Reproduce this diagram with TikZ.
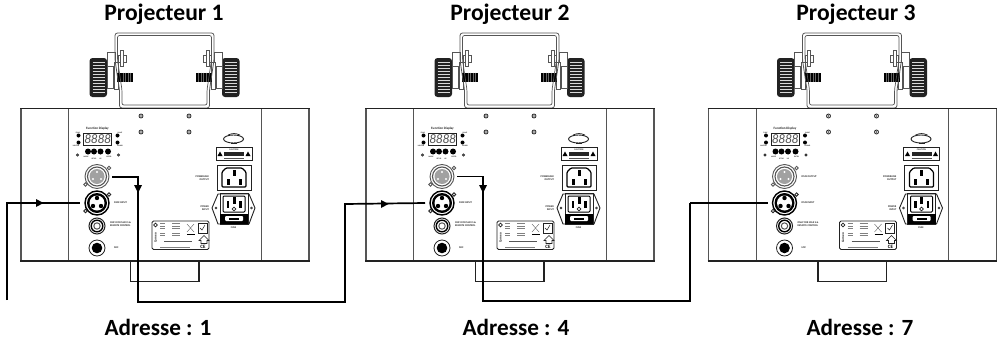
\documentclass[tikz,border=0pt]{standalone}
\usepackage{fontspec}
\setmainfont{Carlito}
\usetikzlibrary{arrows.meta}
\definecolor{dk}{HTML}{222222}
\definecolor{md}{HTML}{555555}
\tikzset{
  title/.style={font=\fontsize{23.6}{24}\selectfont\bfseries,text=black,inner sep=0pt,anchor=base},
  addr/.style={font=\fontsize{23.2}{24}\selectfont\bfseries,text=black,inner sep=0pt,anchor=base},
  tiny/.style={font=\fontsize{2.6}{2.9}\selectfont\bfseries,text=dk,inner sep=0pt,align=center},
  hull/.style={draw=md,line width=1.3pt},
  wire/.style={draw=black,line width=1.7pt,line join=miter},
  thinwire/.style={draw=black,line width=1.2pt},
  tip/.style={fill=black},
  screw/.style={draw=dk,line width=.8pt,fill=white},
}
\newcommand{\halfyoke}{%
  % knob
  \fill[dk,rounded corners=3pt] (89.5,58) rectangle (107,97);
  \foreach \ry in {62,65,...,94}{\draw[white!85!black,line width=.6pt] (92.5,\ry) -- (104.5,\ry);}
  % arm
  \draw[md,line width=.7pt,fill=white] (107,52) rectangle (115,66);
  \draw[md,line width=.7pt,fill=white] (107,66) rectangle (113,88);
  \draw[md,line width=.7pt,fill=white] (114,62) rectangle (118,89);
  \draw[md,line width=.7pt,fill=white] (118,55) rectangle (126,62);
  \draw[md,line width=.7pt,fill=white] (120,50.5) rectangle (123,66);
  % bolt
  \fill[black] (117,72.5) rectangle (133,82);
  \foreach \rx in {123,125.5,...,132}{\draw[dk!70,line width=.4pt] (\rx,72.5) -- (\rx,82);}
}
\newcommand{\xlrscrews}[2]{%
  \draw[#1,line width=.8pt,fill=white] (85.5,184.5+#2) circle (1.7);
  \draw[#1,line width=.8pt,fill=white] (109,168+#2) circle (1.7);
}
\newcommand{\projunit}[3]{%
\begin{scope}[shift={(#1,0)}]
  % yoke
  \begin{scope}\halfyoke\end{scope}
  \begin{scope}[shift={(329,0)},xscale=-1]\halfyoke\end{scope}
  \draw[md,line width=.8pt,rounded corners=2.5pt] (115,33) -- (214,33) -- (214,60) -- (209.5,90) -- (209.5,108) -- (119.5,108) -- (119.5,90) -- (115,60) -- cycle;
  \draw[md,line width=.7pt,rounded corners=2pt] (117.5,35.5) -- (211.5,35.5) -- (211.5,60) -- (207,90) -- (207,105) -- (122,105) -- (122,90) -- (117.5,60) -- cycle;
  % hull
  \draw[hull] (21,108.5) -- (21,261);
  \draw[hull] (309,108.5) -- (309,261);
  \draw[md,line width=.9pt] (68.5,108.5) -- (68.5,261);
  \draw[md,line width=.9pt] (261,108.5) -- (261,261);
  \draw[draw=dk,line width=1.2pt] (20,108.5) -- (309.5,108.5);
  \draw[draw=dk,line width=1.4pt] (20,261) -- (309.5,261);
  % handle
  \draw[draw=dk,line width=1.2pt] (130.5,261) -- (130.5,281.5) -- (199,281.5) -- (199,261);
  % screws
  \foreach \sx in {141,189}\foreach \sy in {116,132}{
    \draw[screw] (\sx,\sy) circle (2);
    \fill[md] (\sx,\sy) circle (.8);
  }
  % display
  \node[tiny,font=\fontsize{3.3}{3.5}\selectfont\bfseries] (fd#2) at (97.5,129) {Function Display};
  \draw[dk,line width=1pt] (83.5,133.5) rectangle (111.5,145);
  \node[font=\fontsize{13}{14}\selectfont\itshape,text=md,inner sep=0pt] (dg#2) at (97.5,139.3) {8888};
  \foreach \lx in {78.5,117.5}\foreach \ly in {135.5,142.5}{\fill[black] (\lx,\ly) circle (2);}
  \node[tiny,anchor=center] (l1#2) at (78,132.5) {\scalebox{.7}{FUNC}};
  \node[tiny] (l2#2) at (76,145.5) {\scalebox{.7}{MASTER}};
  \node[tiny] (l3#2) at (120,132.5) {\scalebox{.7}{SLAVE}};
  \node[tiny] (l4#2) at (120,145.5) {\scalebox{.7}{SOUND}};
  \foreach \bx in {88,94,100.5,108}{\fill[black] (\bx,151.5) circle (3);}
  \draw[dk,line width=.7pt] (77.5,155) circle (1.2);
  \draw[dk,line width=.7pt] (118.5,155) circle (1.2);
  \node[tiny] (b1#2) at (86,157) {\scalebox{.7}{MODE}};
  \node[tiny] (b2#2) at (94,159) {\scalebox{.7}{SETUP}};
  \node[tiny] (b3#2) at (100.5,159) {\scalebox{.7}{UP}};
  \node[tiny] (b4#2) at (109,157) {\scalebox{.7}{ENTER}};
  % XLR output
  \draw[md,line width=.9pt,fill=white] (97,176.5) circle (12);
  \draw[md,line width=1.1pt] (97,176.5) circle (9.5);
  \fill[md!55] (97,176.5) circle (7.5);
  \foreach \px/\py in {97/172,93/179,101/179}{\fill[white] (\px,\py) circle (1.2);}
  \xlrscrews{md}{0}
  % XLR input
  \draw[black,line width=1.4pt,fill=white] (97,203) circle (12);
  \fill[black] (97,203) circle (10);
  \fill[white] (97,203) circle (7.5);
  \foreach \px/\py in {97/198,93/206,101/206}{\fill[black] (\px,\py) circle (2.2);}
  \xlrscrews{dk}{26.5}
  \node[tiny,anchor=west] (in#2t) at (114,203) {DMX INPUT};
  % remote
  \draw[dk,line width=1pt] (97,226) circle (8);
  \draw[black,line width=1.4pt] (97,226) circle (5.8);
  \draw[md,line width=1pt] (97,226) circle (3.2);
  \node[tiny,anchor=west,align=left] (re#2t) at (110,224.5) {ONLY FOR MAX S \&\\REMOTE CONTROL};
  % mic
  \draw[dk,line width=.8pt] (97,248) circle (8);
  \fill[black] (97,248) circle (5.3);
  \node[tiny,anchor=west] (mi#2t) at (114,248) {MIC};
  % rating plate
  \draw[dk,line width=.8pt,rounded corners=1.5pt] (152,221) rectangle (209,249.5);
  \draw[dk,line width=.7pt] (155.5,225) circle (1.8);
  \node[tiny,rotate=90,font=\fontsize{3.4}{4}\selectfont\bfseries] (cn#2) at (155.5,238) {Cameo};
  \foreach \ty in {223.5,226,228.5,233,235}{\draw[gray,line width=.35pt] (160,\ty) -- (165,\ty);\draw[gray,line width=.35pt] (172,\ty) -- (180,\ty);}
  \draw[md,line width=.6pt] (164,241.5) -- (192,241.5);
  \draw[gray,line width=.35pt] (160,247.5) -- (190,247.5);
  \draw[md,line width=.35pt] (187,224) -- (194,232);
  \draw[md,line width=.35pt] (194,224) -- (187,232);
  \draw[black,line width=.9pt] (187,234) -- (195,234);
  \draw[dk,line width=.5pt] (198,223) rectangle (207,233);
  \draw[dk,line width=.5pt] (200,228) -- (202,230) -- (205,225);
  \draw[dk,line width=.6pt] (199,240.5) -- (204,235.5) -- (209,240.5) -- (207,240.5) -- (207,243.5) -- (201,243.5) -- (201,240.5) -- cycle;
  \node[font=\fontsize{5}{6}\selectfont\bfseries,inner sep=0pt] (ce#2) at (203,246.5) {CE};
  % cable clip
  \draw[dk,line width=.9pt] (233.5,139) ellipse (10 and 4);
  \draw[dk,line width=.7pt] (228,135) .. controls (233,133) and (235,133) .. (240,135);
  \fill[dk] (231,142.5) rectangle (237,144);
  % warning label
  \draw[dk,line width=.8pt] (216,147.5) rectangle (252,160);
  \fill[black!85] (224,152) rectangle (244,155.5);
  \fill[black] (220,151.5) -- (222.5,156) -- (217.5,156) -- cycle;
  \fill[black] (248,151.5) -- (250.5,156) -- (245.5,156) -- cycle;
  \node[tiny] (wl#2) at (234,149.8) {\scalebox{.9}{CAUTION}};
  \draw[md,line width=.5pt] (224,158) -- (244,158);
  % outlet
  \draw[dk,line width=.9pt] (217,165) rectangle (251,190.5);
  \draw[black,line width=1.2pt,rounded corners=1pt] (222,172) -- (226,168) -- (242,168) -- (246,172) -- (246,187) -- (222,187) -- cycle;
  \fill[black] (232.5,170) rectangle (235.5,175.5);
  \fill[black] (226.5,179) rectangle (229.5,185);
  \fill[black] (238.5,179) rectangle (241.5,185);
  \node[tiny,align=right,anchor=east] (po#2) at (209,178) {POWERLINK\\OUTPUT};
  % power input
  \draw[dk,line width=.9pt,fill=white] (218,194) -- (249,194) -- (255,208) -- (249,224) -- (218,224) -- (212,208) -- cycle;
  \draw[dk,line width=1pt] (220,193) rectangle (248,224);
  \draw[black,line width=1pt,rounded corners=1pt] (223,196) rectangle (245,212);
  \fill[black] (232.5,197) rectangle (235.5,204);
  \fill[black] (226.5,201) rectangle (229,208);
  \fill[black] (239,201) rectangle (241.5,208);
  \draw[dk,line width=.6pt] (234,209) circle (1.9);
  \fill[black] (220,213.5) rectangle (248,223.5);
  \fill[white,rounded corners=1pt] (225,216) rectangle (243,221);
  \fill[black] (229,217.5) rectangle (239,219.5);
  \draw[dk,line width=.6pt] (216,208) circle (1);
  \draw[dk,line width=.6pt] (251.5,208) circle (1);
  \node[tiny,align=right,anchor=east] (pi#2) at (209,208) {POWER\\INPUT};
  \node[tiny] (fu#2) at (233.5,227.5) {FUSE};
  % connectors' anchors
  \coordinate (out#2) at (112,#3);
  \coordinate (in#2) at (80,203);
\end{scope}}
\begin{document}
\begin{tikzpicture}[x=1pt,y=-1pt]
\useasboundingbox (0,0) rectangle (1000,340);
\fill[white] (0,0) rectangle (1000,340);
\projunit{0}{a}{177}
\projunit{345}{b}{176.5}
\projunit{687.5}{c}{176.5}
\node[tiny,anchor=west] (dmxoutc) at (801.5,176.5) {DMX OUTPUT};
\node[title] (ta) at (164,20.5) {Projecteur 1};
\node[title] (tb) at (510,20.5) {Projecteur 2};
\node[title] (tc) at (856,20.5) {Projecteur 3};
\node[addr] (aa) at (158,335) {Adresse : 1};
\node[addr] (ab) at (516,335) {Adresse : 4};
\node[addr] (ac) at (860,335) {Adresse : 7};
\coordinate (src) at (7,300);
\coordinate (ba) at (138,302);
\coordinate (ra) at (345,204);
\coordinate (bb) at (483,301);
\coordinate (rb) at (690,203);
\draw[wire] (src) |- (ina);
\draw[wire] (outa) -| (ba) -| (ra) -- (inb);
\draw[wire] (outb) -| (bb) -| (rb);
\draw[thinwire] (rb) -- (inc);
\fill[tip] (36,199) -- (43.5,203) -- (36,207) -- cycle;
\fill[tip] (381,200) -- (388.5,204) -- (381,208) -- cycle;
\fill[tip] (134,185) -- (142,185) -- (138,193) -- cycle;
\fill[tip] (479,185) -- (487,185) -- (483,193) -- cycle;
\end{tikzpicture}
\end{document}
